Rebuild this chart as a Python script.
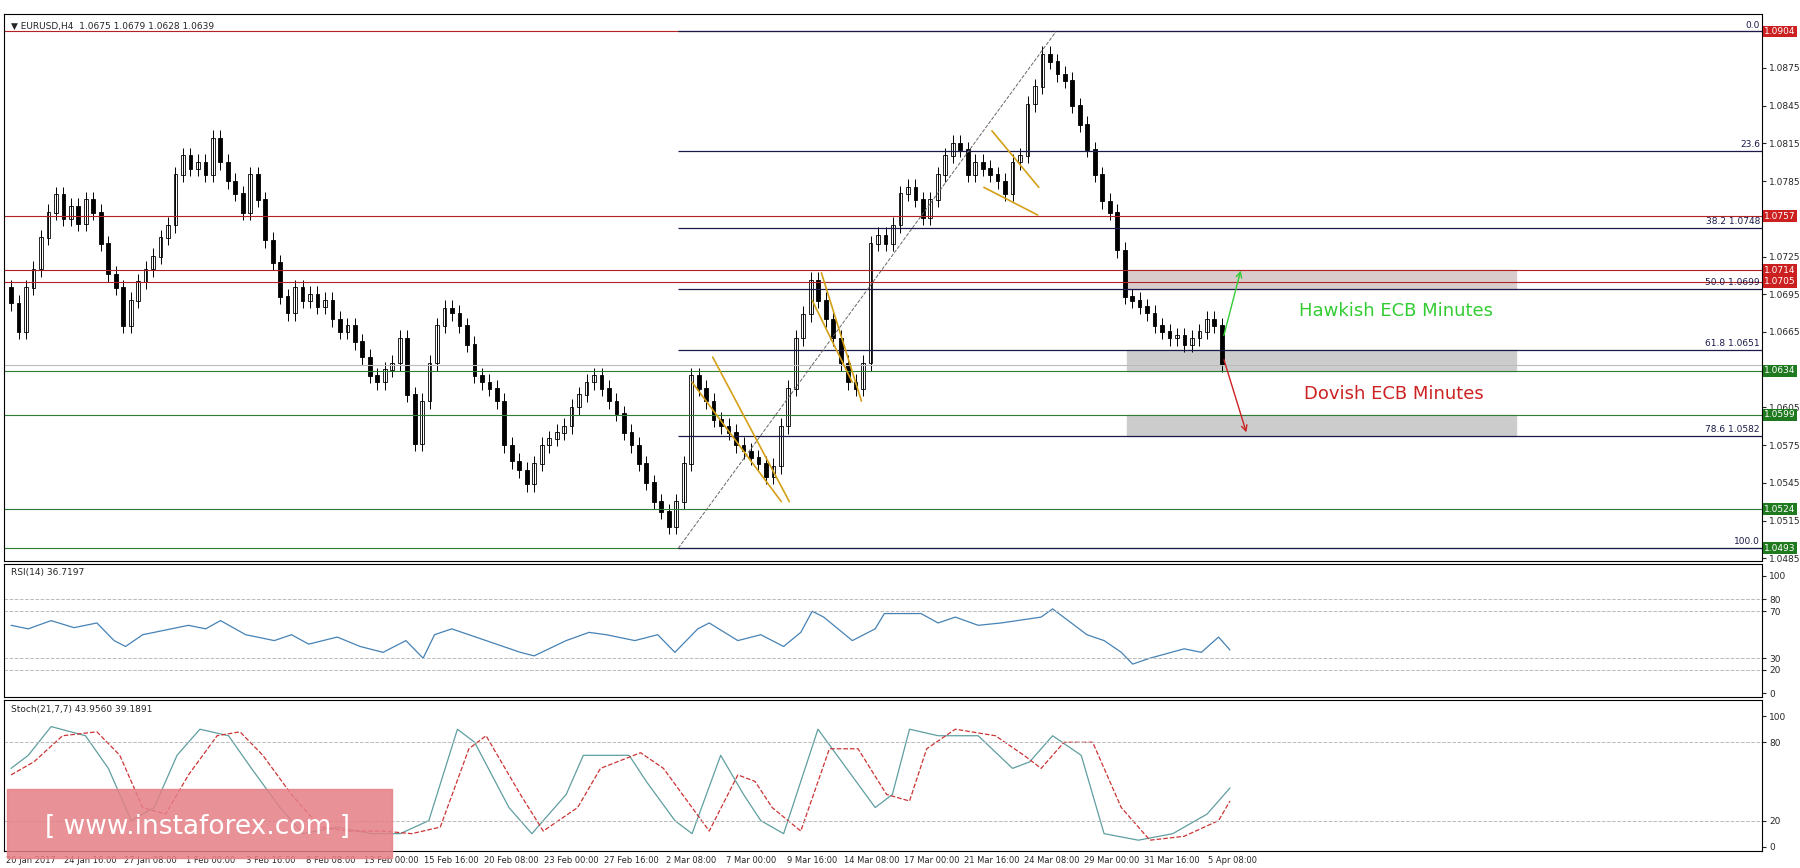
import numpy as np, pandas as pd, matplotlib
matplotlib.use("Agg")
import matplotlib.pyplot as plt, seaborn as sns
from matplotlib.patches import Rectangle

sns.set_style("white")
plt.rcParams['font.family'] = ['DejaVu Sans']

closes_pips = [688,665,700,715,740,760, 774,755,765, 751,770,760,735,711, 700,670,690,705,
 715,725,740,750,790,805, 795,800,790,819, 800,785,775,760,790,770,738, 720,693,680,700,690,
 695,685,690,675,665,670,657, 645,630,625,635,640,660,615,576, 610,640,670,684,
 680,670,655,630,625,620,610,575,562, 555,544,560, 575,580,585,590,605,615,625,630,
 620,610,600,585,575,560,545,530,522, 510,530,560,630, 620,610,595,590,585,575,570,565,560,550,558,
 590,620,660,679,706, 690,675,660,640,625,620,640, 735,742,735,750,775,780,770,756,770,790,805,
 815,810,790,800,795,790,785,775,800,805,846, 860,886,880,870,865, 845,830,810,790,769,760,730,693,
 690,685,680,670,665,660,662,655,660,665,675,670,639]
closes = 1 + np.array(closes_pips) / 10000.0
opens = np.concatenate([[1.0700], closes[:-1]])

date_labels = ["20 Jan 2017","24 Jan 16:00","27 Jan 08:00","1 Feb 00:00","3 Feb 16:00","8 Feb 08:00",
 "13 Feb 00:00","15 Feb 16:00","20 Feb 08:00","23 Feb 00:00","27 Feb 16:00","2 Mar 08:00","7 Mar 00:00",
 "9 Mar 16:00","14 Mar 08:00","17 Mar 00:00","21 Mar 16:00","24 Mar 08:00","29 Mar 00:00","31 Mar 16:00","5 Apr 08:00"]

rsi_px = [5,20,40,60,80,95,105,120,140,160,175,188,210,235,250,265,290,310,330,350,365,375,390,420,450,462,490,510,525,550,570,585,605,615,640,660,680,695,705,715,740,760,768,800,815,830,850,870,905,915,945,960,975,985,1000,1030,1045,1060,1070]
rsi_val = [58,55,62,56,60,45,40,50,54,58,55,62,50,45,50,42,48,40,35,45,30,50,55,45,35,32,45,52,50,45,50,35,55,60,45,50,40,52,70,65,45,55,68,68,60,65,58,60,65,72,50,45,35,25,30,38,35,48,37]
k_px = [5,20,40,70,90,110,130,150,170,195,215,240,260,290,320,345,370,395,410,440,460,490,505,545,560,585,600,625,645,660,680,710,735,760,775,790,815,850,880,895,915,940,960,990,1020,1050,1070]
k_val = [60,70,92,85,60,20,30,70,90,85,60,30,10,15,10,10,20,90,80,30,10,40,70,70,50,20,10,70,40,20,10,90,60,30,40,90,85,85,60,65,85,70,10,5,10,25,45]
d_px = [5,25,50,80,100,120,140,160,185,205,225,250,275,300,330,355,380,405,420,450,470,500,520,555,575,600,615,640,655,670,695,720,745,770,790,805,830,865,890,905,925,950,975,1000,1030,1060,1070]
d_val = [55,65,85,88,70,30,25,55,85,88,70,40,15,12,12,10,15,75,85,40,12,30,60,72,60,30,12,55,50,30,12,75,75,40,35,75,90,85,70,60,80,80,30,5,8,20,35]

red_levels = [1.0904, 1.0757, 1.0714, 1.0705]
green_levels = [1.0634, 1.0599, 1.0524, 1.0493]
fib_names = ["0.0", "23.6", "38.2 1.0748", "50.0 1.0699", "61.8 1.0651", "78.6 1.0582", "100.0"]
fib_levels = [1.0904, 1.0809, 1.0748, 1.0699, 1.0651, 1.0582, 1.0493]

px = lambda x: (x - 5) / 6.53
fig = plt.figure(figsize=(18, 8.68), dpi=100)
L, R = 0.002, 0.979
ax = fig.add_axes([L, 0.354, R-L, 0.630])
ax2 = fig.add_axes([L, 0.197, R-L, 0.153])
ax3 = fig.add_axes([L, 0.020, R-L, 0.173])
xl = (-1, px(1535))
idx = np.arange(len(closes))
up = closes >= opens
body = np.abs(closes - opens) + 0.00004
bot = np.minimum(opens, closes)
ax.vlines(idx, bot - 0.0006, bot + body + 0.0006, color='black', lw=0.7)
ax.bar(idx[up], body[up], bottom=bot[up], width=0.5, color='white', edgecolor='black', lw=0.6)
ax.bar(idx[~up], body[~up], bottom=bot[~up], width=0.5, color='black', edgecolor='black', lw=0.6)

for lv in red_levels:
    ax.axhline(lv, color='#b22222', lw=0.8)
for lv in green_levels:
    ax.axhline(lv, color='#2e7d32', lw=0.8)
ax.axhline(closes[-1], color='#bbbbbb', lw=0.8)
for nm, lv in zip(fib_names, fib_levels):
    ax.hlines(lv, px(588), xl[1], color='#1a1a4a', lw=0.9)
    ax.text(xl[1]-0.3, lv+0.00015, nm, ha='right', va='bottom', fontsize=6.5, color='#1a1a4a')
ax.plot([px(588), px(918)], [1.0493, 1.0904], ls='--', color='#666666', lw=0.7)
for lo, hi, c in [(1.0699, 1.0714, '#d8cccc'), (1.0634, 1.0651, '#cccccc'), (1.0582, 1.0599, '#cccccc')]:
    ax.add_patch(Rectangle((px(980), lo), px(1320)-px(980), hi-lo, color=c, zorder=0))
for (x0,y0,x1,y1) in [(618,1.0645,685,1.0530),(713,1.0712,748,1.0610),(862,1.0825,903,1.0780),
                      (600,1.0625,678,1.0530),(705,1.0690,740,1.0625),(855,1.0780,902,1.0758)]:
    ax.plot([px(x0),px(x1)],[y0,y1], color='#d4a017', lw=1.2)
ax.annotate("", xy=(px(1080), 1.0716), xytext=(px(1064), 1.0660), arrowprops=dict(arrowstyle='->', color='#33cc33', lw=1))
ax.annotate("", xy=(px(1085), 1.0583), xytext=(px(1064), 1.0645), arrowprops=dict(arrowstyle='->', color='#cc2222', lw=1))
ax.text(px(1130), 1.0682, "Hawkish ECB Minutes", color='#33cc33', fontsize=13, va='center')
ax.text(px(1135), 1.0616, "Dovish ECB Minutes", color='#cc2222', fontsize=13, va='center')
ax.text(0.004, 0.985, "▼ EURUSD,H4  1.0675 1.0679 1.0628 1.0639", transform=ax.transAxes, fontsize=6.5, va='top')
ax.set_xlim(*xl); ax.set_ylim(1.0483, 1.0918)
ticks = [1.0875,1.0845,1.0815,1.0785,1.0725,1.0695,1.0665,1.0605,1.0575,1.0545,1.0515,1.0485]
ax.yaxis.tick_right(); ax.set_yticks(ticks); ax.set_yticklabels([f"{t:.4f}" for t in ticks])
for lv in red_levels + green_levels:
    ax.text(1.001, lv, f"{lv:.4f}", transform=ax.get_yaxis_transform(), fontsize=6.5, color='white', va='center',
            bbox=dict(boxstyle='square,pad=0.15', fc='#cc1f1f' if lv in red_levels else '#1f7a1f', ec='none'))

sns.lineplot(x=[px(v) for v in rsi_px], y=rsi_val, ax=ax2, color='#4682b4', lw=0.9)
for h in [80, 70, 30, 20]:
    ax2.axhline(h, color='#bbbbbb', ls='--', lw=0.7)
ax2.set_ylim(-3, 110); ax2.set_xlim(*xl)
ax2.yaxis.tick_right(); ax2.set_yticks([0,20,30,70,80,100])
ax2.text(0.004, 0.97, "RSI(14) 36.7197", transform=ax2.transAxes, fontsize=6.5, va='top')

sns.lineplot(x=[px(v) for v in k_px], y=k_val, ax=ax3, color='#5f9ea0', lw=0.9)
sns.lineplot(x=[px(v) for v in d_px], y=d_val, ax=ax3, color='#cc3333', lw=0.9, linestyle='--')
for h in [80, 20]:
    ax3.axhline(h, color='#bbbbbb', ls='--', lw=0.7)
ax3.set_ylim(-3, 112); ax3.set_xlim(*xl)
ax3.yaxis.tick_right(); ax3.set_yticks([0,20,80,100])
ax3.text(0.004, 0.97, "Stoch(21,7,7) 43.9560 39.1891", transform=ax3.transAxes, fontsize=6.5, va='top')
ax3.add_patch(Rectangle((0.002, -0.05), 0.219, 0.46, transform=ax3.transAxes, color='#e57f86', alpha=0.85, clip_on=False, zorder=5))
ax3.text(0.11, 0.16, "[ www.instaforex.com ]", transform=ax3.transAxes, color='white', fontsize=19, ha='center', va='center', zorder=6)

pos = [2.6 + 8.04*k for k in range(len(date_labels))]
for a in (ax, ax2):
    a.set_xticks(pos); a.set_xticklabels([])
ax3.set_xticks(pos); ax3.set_xticklabels(date_labels, fontsize=6)
for a in (ax, ax2, ax3):
    a.tick_params(axis='y', labelsize=6.5, length=3, pad=2)
    a.tick_params(axis='x', length=3, pad=1)
    for s in a.spines.values(): s.set_color('black'); s.set_linewidth(0.8)
fig.savefig("out.png", dpi=100)
